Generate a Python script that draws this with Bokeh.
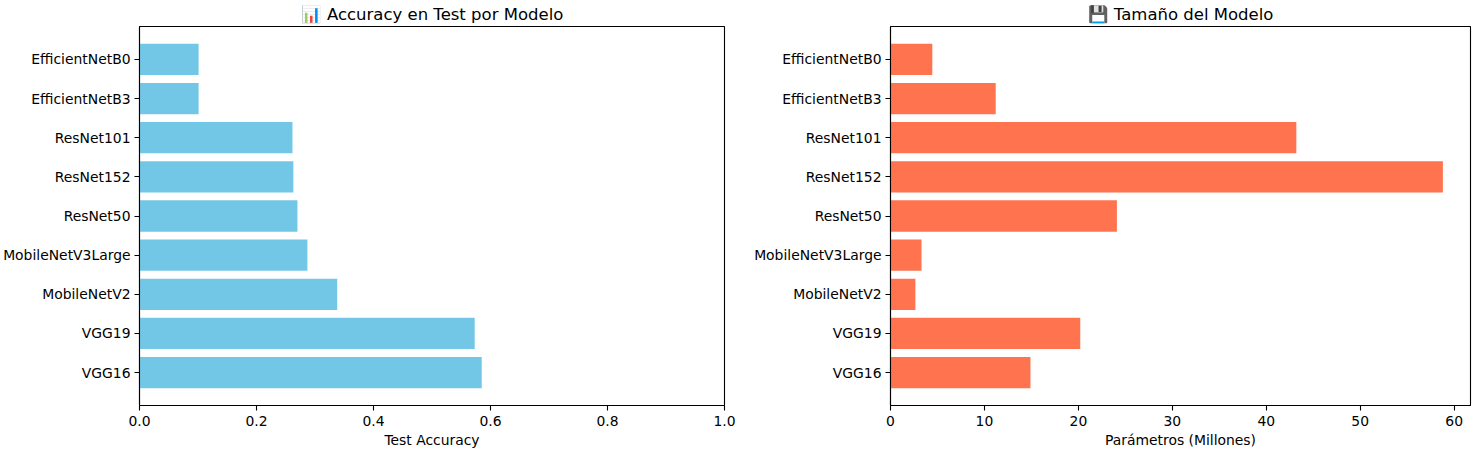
from bokeh.plotting import figure
from bokeh.layouts import row
from bokeh.models import FixedTicker, Range1d
from bokeh.embed import file_html
from bokeh.resources import INLINE

# bottom-to-top order
models = ["VGG16", "VGG19", "MobileNetV2", "MobileNetV3Large", "ResNet50",
          "ResNet152", "ResNet101", "EfficientNetB3", "EfficientNetB0"]
accuracy = [0.585, 0.573, 0.338, 0.287, 0.270, 0.263, 0.2615, 0.101, 0.101]
params_m = [14.9, 20.2, 2.65, 3.3, 24.1, 58.8, 43.2, 11.2, 4.45]

acc_ticks = [0.0, 0.2, 0.4, 0.6, 0.8, 1.0]
par_ticks = [0, 10, 20, 30, 40, 50, 60]

FONT = "DejaVu Sans"
ypos = list(range(len(models)))
labels = {i: m for i, m in enumerate(models)}


def make(title, values, color, xr, ticks, xlabel, fw, bl, br, fmt):
    p = figure(frame_width=fw, frame_height=379, output_backend="svg", toolbar_location=None,
               x_range=Range1d(*xr), y_range=Range1d(-0.84, len(models) - 1 + 0.84),
               min_border_left=bl, min_border_right=br, min_border_top=21, min_border_bottom=10)
    p.hbar(y=ypos, right=values, left=0, height=0.8, color=color, line_color=None)
    p.title.text = title
    p.title.align = "center"
    p.title.text_font = FONT
    p.title.text_font_size = "16.5px"
    p.title.text_font_style = "normal"
    p.title.text_color = "black"
    p.title.standoff = 5
    p.title.offset = 0
    p.outline_line_color = "black"
    p.outline_line_width = 1.1
    p.xgrid.visible = False
    p.ygrid.visible = False
    p.background_fill_color = "white"
    p.border_fill_color = "white"

    xa = p.xaxis[0]
    xa.ticker = FixedTicker(ticks=ticks)
    xa.major_label_overrides = {t: fmt(t) for t in ticks}
    xa.axis_label = xlabel
    ya = p.yaxis[0]
    ya.ticker = FixedTicker(ticks=ypos)
    ya.major_label_overrides = labels
    for ax in (xa, ya):
        ax.minor_tick_line_color = None
        ax.major_tick_in = 0
        ax.major_tick_out = 5
        ax.major_tick_line_color = "black"
        ax.major_tick_line_width = 1.1
        ax.axis_line_color = "black"
        ax.axis_line_width = 1.1
        ax.major_label_text_font = FONT
        ax.major_label_text_font_size = "13.9px"
        ax.major_label_text_color = "black"
        ax.axis_label_text_font = FONT
        ax.axis_label_text_font_size = "13.9px"
        ax.axis_label_text_font_style = "normal"
        ax.axis_label_text_color = "black"
    xa.major_label_standoff = 5
    xa.axis_label_standoff = 3
    ya.major_label_standoff = 4
    return p


p1 = make("📊 Accuracy en Test por Modelo", accuracy, "#73C7E6", (0, 1.0), acc_ticks,
          "Test Accuracy", 585, 132, 27, lambda t: f"{t:.1f}")
p2 = make("💾 Tamaño del Modelo", params_m, "#FF734F", (0, max(params_m) * 1.05), par_ticks,
          "Parámetros (Millones)", 580, 136, 2, lambda t: f"{t:d}")

layout = row(p1, p2)
open("out.html", "w").write(file_html(layout, INLINE))
